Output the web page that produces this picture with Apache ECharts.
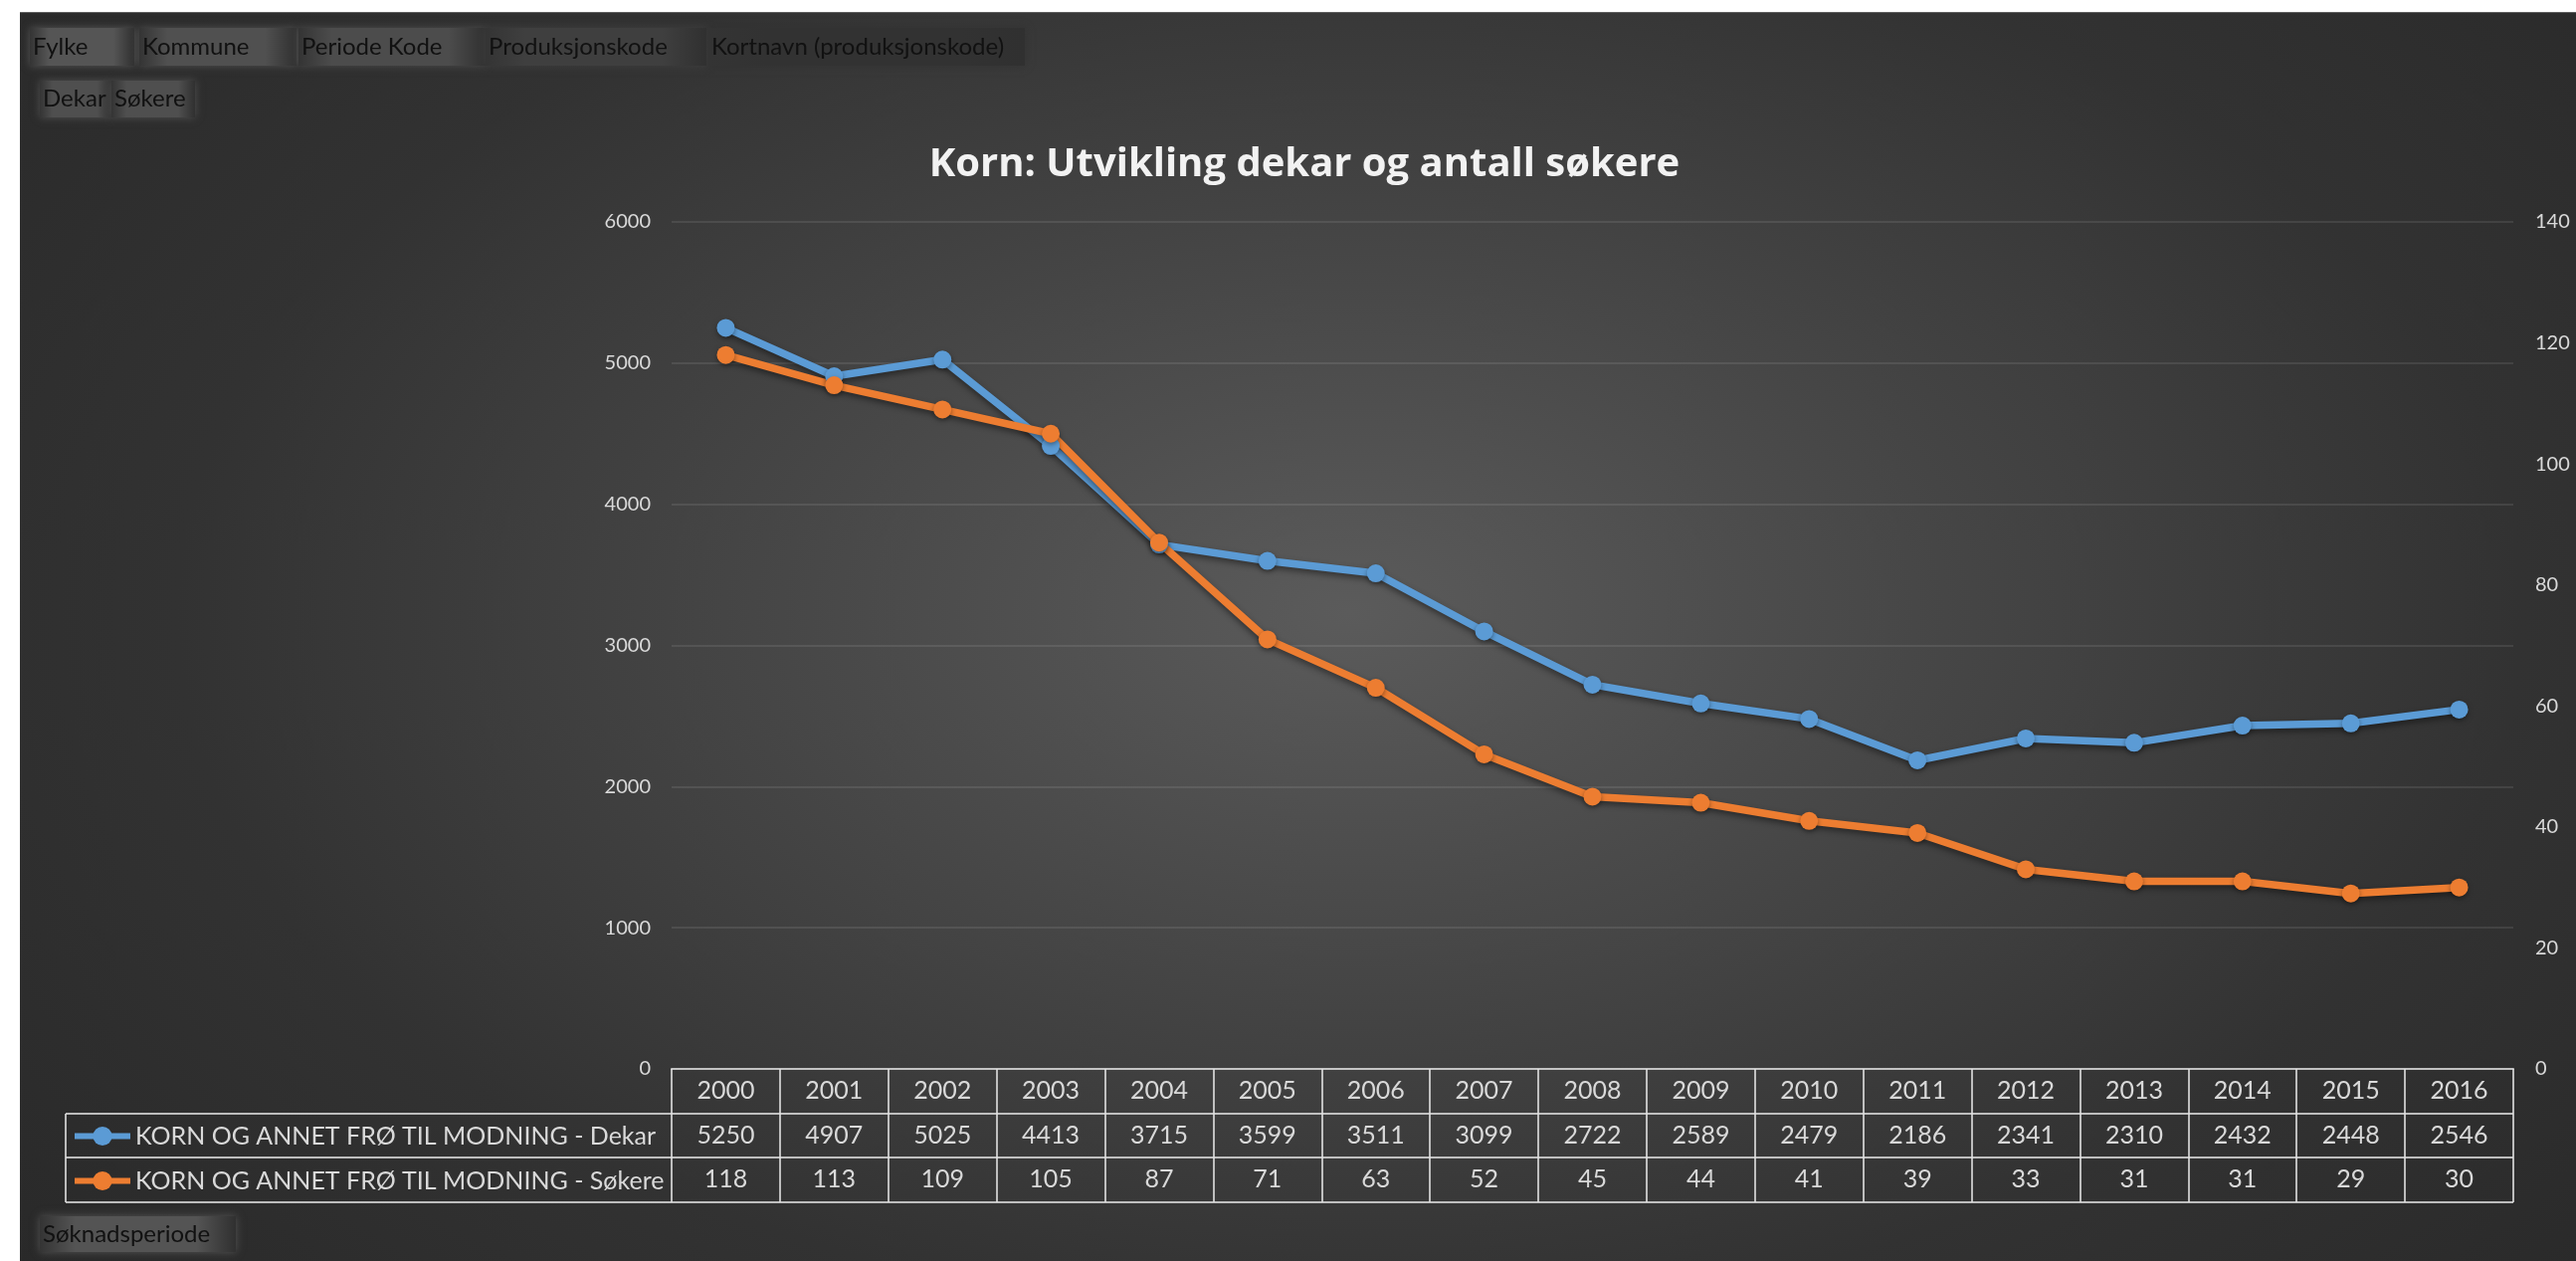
<!DOCTYPE html>
<html>
<head>
<meta charset="utf-8">
<title>Korn: Utvikling dekar og antall søkere</title>
<script src="https://cdn.jsdelivr.net/npm/echarts@6/dist/echarts.min.js"></script>
<style>
  html, body { margin: 0; padding: 0; background: #fff; }
  #bg {
    position: absolute; left: 20px; top: 12px; width: 2569px; height: 1255px;
    box-sizing: border-box; border-top: 1px solid #5e5e5e;
    background: radial-gradient(1900px 1150px at 52% 48%, #5b5b5b 0%, #474747 30%, #323232 62%, #262626 100%);
  }
  #chart { position: absolute; left: 0; top: 0; width: 2589px; height: 1267px; }
</style>
</head>
<body>
<div id="bg"></div>
<div id="chart"></div>
<script>
// data
const years = ['2000', '2001', '2002', '2003', '2004', '2005', '2006', '2007', '2008',
  '2009', '2010', '2011', '2012', '2013', '2014', '2015', '2016'];
const dekar = [5250, 4907, 5025, 4413, 3715, 3599, 3511, 3099, 2722, 2589, 2479, 2186, 2341, 2310, 2432, 2448, 2546];
const sokere = [118, 113, 109, 105, 87, 71, 63, 52, 45, 44, 41, 39, 33, 31, 31, 29, 30];
const seriesNames = ['KORN OG ANNET FRØ TIL MODNING - Dekar', 'KORN OG ANNET FRØ TIL MODNING - Søkere'];
const chartTitle = 'Korn: Utvikling dekar og antall søkere';
const filterFields = ['Fylke', 'Kommune', 'Periode Kode', 'Produksjonskode', 'Kortnavn (produksjonskode)'];
const valueFields = ['Dekar', 'Søkere'];
const axisField = 'Søknadsperiode';

const colors = ['#5b9bd5', '#ed7d31'];
const FONT = 'Lato, "Open Sans", sans-serif';
const textColor = '#d9d9d9';
const tableLine = { color: 'rgba(225,225,225,0.8)', width: 2 };

// pivot field buttons: [x, width] in page pixels
const filterBoxes = [[30, 105], [140, 158], [300, 188], [488, 222], [712, 318]];
const filterShade = ['#555555', '#505050', '#4c4c4c', '#3f3f3f', '#323232'];
const valueBoxes = [[40, 72], [112, 84]];

const chart = echarts.init(document.getElementById('chart'), null, { renderer: 'canvas' });

// one category axis per table row; the first one also draws the column borders
function tableAxis(data, offset, withBorders) {
  return {
    type: 'category',
    position: 'bottom',
    offset: offset,
    data: data,
    boundaryGap: true,
    axisLine: { show: withBorders, onZero: false, lineStyle: tableLine },
    axisTick: { show: withBorders, interval: 0, length: 134, lineStyle: tableLine },
    axisLabel: {
      interval: 0, margin: 22, verticalAlign: 'middle',
      color: textColor, fontSize: 25, fontFamily: FONT
    },
    splitLine: { show: false }
  };
}

function fieldButton(label, x, y, w, h, shade) {
  return {
    type: 'group',
    children: [
      {
        type: 'rect',
        shape: { x: x, y: y, width: w, height: h },
        style: {
          fill: new echarts.graphic.LinearGradient(0, 0, 1, 0, [
            { offset: 0, color: '#343434' },
            { offset: 0.18, color: shade },
            { offset: 0.8, color: shade },
            { offset: 1, color: '#303030' }
          ]),
          shadowColor: shade,
          shadowBlur: 8
        }
      },
      {
        type: 'text',
        style: {
          text: label, x: x + 3, y: y + h / 2,
          fill: '#111111', fontSize: 24, fontFamily: FONT,
          verticalAlign: 'middle', textVerticalAlign: 'middle'
        }
      }
    ]
  };
}

const graphics = [];
filterFields.forEach((f, i) => {
  graphics.push(fieldButton(f, filterBoxes[i][0], 28, filterBoxes[i][1], 38, filterShade[i]));
});
valueFields.forEach((f, i) => {
  graphics.push(fieldButton(f, valueBoxes[i][0], 81, valueBoxes[i][1], 37, '#4f4f4f'));
});
graphics.push(fieldButton(axisField, 40, 1222, 197, 36, '#545454'));

// chart title
graphics.push({
  type: 'text',
  style: {
    text: chartTitle, x: 1311, y: 166,
    fill: '#f2f2f2', fontSize: 40, fontWeight: 'bold', fontFamily: '"Open Sans", Lato, sans-serif',
    align: 'center', verticalAlign: 'middle',
    textAlign: 'center', textVerticalAlign: 'middle',
    shadowColor: 'rgba(0,0,0,0.65)', shadowBlur: 5, shadowOffsetX: 1, shadowOffsetY: 2
  }
});

// row borders of the data table and its legend column
[1119, 1163, 1208].forEach(y => {
  graphics.push({ type: 'line', shape: { x1: 66, y1: y, x2: 2526, y2: y }, style: { stroke: tableLine.color, lineWidth: 2 } });
});
graphics.push({ type: 'line', shape: { x1: 66, y1: 1119, x2: 66, y2: 1208 }, style: { stroke: tableLine.color, lineWidth: 2 } });

function lineSeries(name, data, yIdx, color) {
  return {
    name: name,
    type: 'line',
    xAxisIndex: 0,
    yAxisIndex: yIdx,
    data: data,
    symbol: 'circle',
    symbolSize: 18,
    lineStyle: { width: 7.5, color: color, shadowColor: 'rgba(0,0,0,0.45)', shadowBlur: 6, shadowOffsetY: 3 },
    itemStyle: { color: color, shadowColor: 'rgba(0,0,0,0.4)', shadowBlur: 5, shadowOffsetY: 2 },
    emphasis: { disabled: true }
  };
}

const option = {
  animation: false,
  color: colors,
  grid: { left: 675, right: 63, top: 223, bottom: 193, containLabel: false, outerBoundsMode: 'none' },
  legend: {
    orient: 'vertical',
    left: 72,
    top: 1129,
    padding: 0,
    itemWidth: 56,
    itemHeight: 24,
    itemGap: 20,
    selectedMode: false,
    data: seriesNames,
    lineStyle: { width: 6 },
    textStyle: { color: textColor, fontSize: 25, lineHeight: 24, fontFamily: FONT }
  },
  xAxis: [
    tableAxis(years, 0, true),
    tableAxis(dekar.map(String), 45, false),
    tableAxis(sokere.map(String), 89, false)
  ],
  yAxis: [
    {
      type: 'value', min: 0, max: 6000, interval: 1000,
      axisLine: { show: false }, axisTick: { show: false },
      axisLabel: { color: textColor, fontSize: 20, fontFamily: FONT, margin: 21, formatter: v => String(v) },
      splitLine: { show: true, lineStyle: { color: 'rgba(255,255,255,0.09)', width: 2 } }
    },
    {
      type: 'value', min: 0, max: 140, interval: 20, position: 'right',
      axisLine: { show: false }, axisTick: { show: false },
      axisLabel: { color: textColor, fontSize: 20, fontFamily: FONT, margin: 22, formatter: v => String(v) },
      splitLine: { show: false }
    }
  ],
  graphic: graphics,
  series: [
    lineSeries(seriesNames[0], dekar, 0, colors[0]),
    lineSeries(seriesNames[1], sokere, 1, colors[1])
  ]
};

chart.setOption(option);
window.addEventListener('resize', chart.resize);
</script>
</body>
</html>
